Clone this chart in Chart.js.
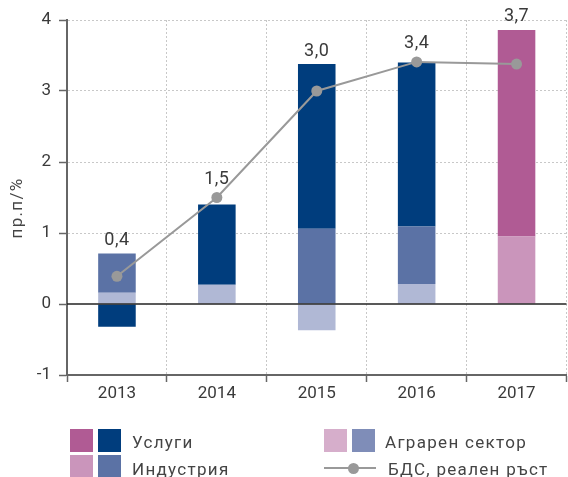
<!DOCTYPE html>
<html>
<head>
<meta charset="utf-8">
<script src="https://cdn.jsdelivr.net/npm/chart.js@4/dist/chart.umd.min.js"></script>
<style>
  html, body { margin: 0; padding: 0; overflow: hidden; background: #fff; }
  #wrap { position: relative; width: 572px; height: 477px; font-family: Roboto, sans-serif; }
  .sq { position: absolute; width: 23px; height: 23px; }
  .lbl { position: absolute; font-size: 17px; letter-spacing: 1.3px; line-height: 23px; color: #444; white-space: nowrap; }
  .ln { position: absolute; height: 2px; background: #999; }
  .dot { position: absolute; width: 11px; height: 11px; border-radius: 50%; background: #999; }
</style>
</head>
<body>
<div id="wrap">
  <canvas id="chart" width="572" height="477"></canvas>
  <div class="sq" style="left:70px;top:429px;background:#b05b94"></div>
  <div class="sq" style="left:98px;top:429px;background:#003d7d"></div>
  <div class="lbl" style="left:132px;top:431px">Услуги</div>
  <div class="sq" style="left:70px;top:455px;background:#ca95bb"></div>
  <div class="sq" style="left:98px;top:455px;background:#5b72a5"></div>
  <div class="lbl" style="left:132px;top:458px">Индустрия</div>
  <div class="sq" style="left:324px;top:429px;background:#d6aecb"></div>
  <div class="sq" style="left:352px;top:429px;background:#7f8db8"></div>
  <div class="lbl" style="left:385px;top:431px">Аграрен сектор</div>
  <div class="ln" style="left:324px;top:467px;width:52px"></div>
  <div class="dot" style="left:348px;top:463px"></div>
  <div class="lbl" style="left:388px;top:458px">БДС, реален ръст</div>
</div>
<script>
const years = ['2013', '2014', '2015', '2016', '2017'];
const agro = [0.16, 0.27, -0.37, 0.28, 0];
const industry = [0.55, 0, 1.06, 0.81, 0.95];
const services = [-0.32, 1.13, 2.32, 2.31, 2.91];
const gdp = [0.39, 1.50, 3.00, 3.41, 3.38];
const gdpLabels = ['0,4', '1,5', '3,0', '3,4', '3,7'];

const agroColors = ['#b0b8d5', '#b0b8d5', '#b0b8d5', '#b0b8d5', '#d6aecb'];
const industryColors = ['#5b72a5', '#5b72a5', '#5b72a5', '#5b72a5', '#ca95bb'];
const servicesColors = ['#003d7d', '#003d7d', '#003d7d', '#003d7d', '#b05b94'];

const font = { family: 'Roboto, sans-serif', size: 17 };

// zero line, value labels and y title
const extras = {
  id: 'extras',
  afterDatasetsDraw(chart) {
    const { ctx, chartArea } = chart;
    const x = chart.scales.x, y = chart.scales.y;
    ctx.save();
    ctx.strokeStyle = '#222';
    ctx.lineWidth = 1.5;
    ctx.beginPath();
    ctx.moveTo(chartArea.left, y.getPixelForValue(0));
    ctx.lineTo(chartArea.right, y.getPixelForValue(0));
    ctx.stroke();

    ctx.fillStyle = '#3a3a3a';
    ctx.font = '18px Roboto, sans-serif';
    ctx.letterSpacing = '0.5px';
    ctx.textAlign = 'center';
    ctx.textBaseline = 'middle';
    years.forEach((yr, i) => {
      const pos = [agro[i], industry[i], services[i]].filter(v => v > 0).reduce((a, b) => a + b, 0);
      const ly = Math.min(y.getPixelForValue(pos) - 13, y.getPixelForValue(gdp[i]) - 18);
      ctx.fillText(gdpLabels[i], x.getPixelForValue(i), ly);
    });

    ctx.fillStyle = '#444';
    ctx.font = '17px Roboto, sans-serif';
    ctx.letterSpacing = '1.3px';
    ctx.translate(18, 208);
    ctx.rotate(-Math.PI / 2);
    ctx.fillText('пр.п/%', 0, 0);
    ctx.restore();
  }
};

new Chart(document.getElementById('chart'), {
  data: {
    labels: years,
    datasets: [
      {
        type: 'line',
        label: 'БДС, реален ръст',
        data: gdp,
        borderColor: '#999',
        backgroundColor: '#999',
        borderWidth: 2,
        pointRadius: 5.5,
        pointBorderWidth: 0,
        stack: 'gdp',
        order: 0
      },
      { type: 'bar', label: 'Аграрен сектор', data: agro, backgroundColor: agroColors, order: 1 },
      { type: 'bar', label: 'Индустрия', data: industry, backgroundColor: industryColors, order: 1 },
      { type: 'bar', label: 'Услуги', data: services, backgroundColor: servicesColors, order: 1 }
    ]
  },
  options: {
    responsive: false,
    animation: false,
    layout: { padding: { top: 20, right: 0, bottom: 72, left: 0 } },
    datasets: { bar: { categoryPercentage: 1, barPercentage: 0.376 } },
    plugins: { legend: { display: false }, tooltip: { enabled: false } },
    scales: {
      x: {
        stacked: true,
        afterFit: s => { s.height = 30; },
        grid: { offset: true, color: '#c8c8c8', lineWidth: 1, tickLength: 7, tickColor: '#666', tickWidth: 1.5 },
        border: { color: '#666', width: 2, dash: [2, 2] },
        ticks: { color: '#3a3a3a', font, padding: 2 }
      },
      y: {
        stacked: true,
        min: -1,
        max: 4,
        afterFit: s => { s.width = 67; },
        grid: {
          color: c => (c.tick && c.tick.value <= 0) ? 'rgba(0,0,0,0)' : '#c8c8c8',
          lineWidth: 1, tickLength: 8, tickColor: '#666', tickWidth: 1.5
        },
        border: { color: '#666', width: 2, dash: [2, 2] },
        ticks: { stepSize: 1, color: '#3a3a3a', font, padding: 8 }
      }
    }
  },
  plugins: [extras]
});
</script>
</body>
</html>
